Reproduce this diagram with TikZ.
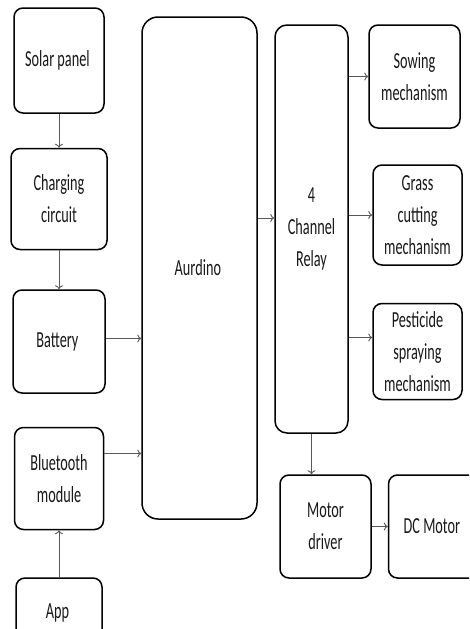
\documentclass[tikz,border=0pt]{standalone}
\usepackage{fontspec}
\setmainfont[FakeStretch = 0.62]{Carlito}
\usepackage{tikz}
\usetikzlibrary{positioning, arrows.meta}

\begin{document}
\begin{tikzpicture}[x = 1pt, y = -1pt,
    every node/.style = { draw, align = center, rounded corners = 9pt, line width = 1.5pt,
      inner sep = 0pt, text = black!90, font = \fontsize{23}{32}\selectfont },
    link/.style = { -{To[length = 4pt, width = 8pt]}, draw = black!65, line width = .9pt }]
    \clip (0, 0) rectangle (469, 629);

    % power and input side
    \node (solar) at (59, 60.5) [minimum width = 90pt, minimum height = 105pt] { Solar panel };
    \node (charging) [below = 34pt of solar, minimum width = 96pt, minimum height = 101pt] { Charging \\ circuit };
    \node (battery) [below = 39pt of charging, minimum width = 92pt, minimum height = 103pt] { Battery };
    \node (bluetooth) [below = 33pt of battery, minimum width = 89pt, minimum height = 102pt] { Bluetooth \\ module };
    \node (app) [below = 47pt of bluetooth, minimum width = 86pt, minimum height = 70pt] { App };

    % controller
    \node (aurdino) at (199.5, 268) [rounded corners = 16pt, minimum width = 115pt, minimum height = 502pt] { Aurdino };
    \node (relay) at (311.5, 229) [rounded corners = 12pt, minimum width = 73pt, minimum height = 408pt] { 4 \\ Channel \\ Relay };

    % outputs
    \node (sowing) at (414.5, 76.5) [minimum width = 91pt, minimum height = 103pt] { Sowing \\ mechanism };
    \node (grass) at (417.5, 215) [minimum width = 89pt, minimum height = 100pt] { Grass \\ cutting \\ mechanism };
    \node (pesticide) [below = 37pt of grass, minimum width = 89pt, minimum height = 96pt] { Pesticide \\ spraying \\ mechanism };
    \node (driver) at (325.5, 526.5) [minimum width = 91pt, minimum height = 103pt] { Motor \\ driver };
    \node (dcmotor) [right = 16pt of driver, minimum width = 90pt, minimum height = 103pt] { DC Motor };

    \draw [link] (solar) -- (charging);
    \draw [link] (charging) -- (battery);
    \draw [link] ([yshift = 3pt]battery.east) -- ([yshift = 3pt]battery.east -| aurdino.west);
    \draw [link] ([yshift = 25pt]bluetooth.east) -- ([yshift = 25pt]bluetooth.east -| aurdino.west);
    \draw [link] (app.north) -- (app.north |- bluetooth.south);
    \draw [link] ([yshift = 11pt]relay.west -| aurdino.east) -- ([yshift = 11pt]relay.west);
    \draw [link] (relay.east |- sowing) -- (sowing.west);
    \draw [link] (relay.east |- grass) -- (grass.west);
    \draw [link] ([yshift = 14pt]pesticide.west -| relay.east) -- ([yshift = 14pt]pesticide.west);
    \draw [link] (relay.south) -- (relay.south |- driver.north);
    \draw [link] (driver) -- (dcmotor);
\end{tikzpicture}
\end{document}
